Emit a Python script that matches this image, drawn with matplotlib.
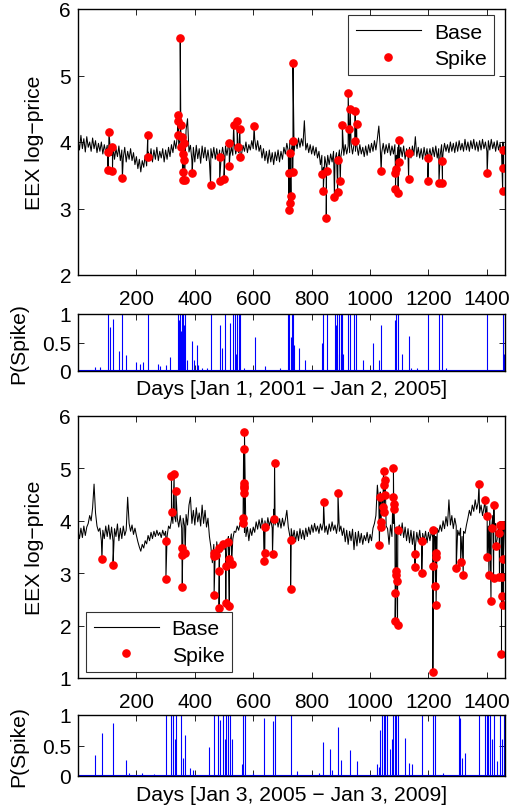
import numpy as np
import matplotlib
matplotlib.use("Agg")
import matplotlib.pyplot as plt
from matplotlib.lines import Line2D

plt.rcParams['font.family'] = ['Liberation Sans', 'DejaVu Sans']

# ---------------- data: panel 1 (2001-2005) ----------------
base1_step = 5
base1 = [
    4.02, 3.88, 4.10, 3.90, 4.05, 3.85, 4.08, 3.92, 4.00, 3.86, 4.06, 3.90, 4.02, 3.84, 3.98, 3.86, 4.00, 3.82, 3.96, 3.84,
    3.95, 3.78, 3.92, 3.80, 3.96, 3.74, 3.90, 3.78, 3.94, 3.72, 3.88, 3.76, 3.92, 3.70, 3.86, 3.74, 3.90, 3.72, 3.84, 3.66,
    3.78, 3.60, 3.74, 3.55, 3.72, 3.62, 3.80, 3.64, 3.85, 3.72, 3.90, 3.70, 3.88, 3.74, 3.92, 3.72, 3.86, 3.76, 3.90, 3.70,
    3.88, 3.74, 3.92, 3.78, 3.96, 3.84, 4.02, 3.90, 4.08, 3.95, 4.05, 3.98, 4.12, 4.00, 4.18, 4.35, 3.85, 3.95, 3.72, 3.92,
    3.70, 3.95, 3.75, 3.90, 3.68, 3.94, 3.76, 3.92, 3.72, 3.88, 3.70, 3.90, 3.76, 3.92, 3.74, 3.90, 3.72, 3.88, 3.76, 3.92,
    3.78, 3.94, 3.80, 3.96, 3.78, 3.92, 3.80, 3.98, 3.82, 3.94, 3.84, 3.98, 3.82, 3.95, 3.86, 4.00, 3.84, 3.96, 3.88, 4.02,
    3.90, 4.05, 3.88, 4.02, 3.86, 3.95, 3.76, 3.90, 3.72, 3.86, 3.68, 3.88, 3.70, 3.84, 3.66, 3.85, 3.72, 3.88, 3.70, 3.86,
    3.74, 3.92, 3.82, 3.98, 3.86, 4.02, 3.88, 4.00, 3.86, 4.04, 3.90, 4.06, 3.92, 4.05, 3.94, 4.32, 3.88, 3.98, 3.84, 3.96,
    3.82, 3.94, 3.80, 3.92, 3.76, 3.86, 3.66, 3.80, 3.62, 3.78, 3.64, 3.80, 3.66, 3.82, 3.70, 3.86, 3.72, 3.84, 3.74, 3.88,
    3.78, 3.92, 3.80, 3.96, 3.82, 3.94, 3.84, 3.98, 3.82, 3.96, 3.86, 3.94, 3.80, 3.96, 3.82, 3.92, 3.78, 3.94, 3.80, 3.96,
    3.84, 3.98, 3.86, 4.02, 3.88, 4.05, 4.24, 3.90, 3.84, 3.98, 3.82, 3.96, 3.84, 3.98, 3.80, 3.94, 3.82, 3.96, 3.80, 3.92,
    3.76, 3.92, 3.78, 3.94, 3.74, 3.90, 3.78, 3.92, 3.76, 3.94, 3.80, 4.08, 3.78, 3.92, 3.76, 3.90, 3.74, 3.92, 3.76, 3.90,
    3.78, 3.90, 3.76, 3.92, 3.78, 3.94, 3.76, 3.90, 3.80, 3.96, 3.84, 3.98, 3.86, 3.96, 3.84, 4.00, 3.86, 3.98, 3.84, 4.00,
    3.86, 4.02, 3.88, 3.98, 3.86, 4.04, 3.88, 4.00, 3.86, 4.02, 3.90, 4.04, 3.88, 4.00, 3.86, 4.02, 3.88, 4.04, 3.90, 4.00,
    3.86, 4.02, 3.88, 4.04, 3.90, 4.00, 3.86, 4.02, 3.88, 3.98, 3.86, 4.00, 3.92]

spike1_days = [103, 104, 106, 118, 118, 152, 239, 239, 342, 344, 344, 350, 352, 353,
               356, 358, 360, 360, 362, 363, 365, 391, 454, 485, 485, 500, 518, 518,
               533, 545, 547, 554, 555, 603, 721, 721, 726, 727, 729, 735, 736, 736,
               835, 840, 850, 851, 878, 889, 890, 898, 905, 925, 928, 932, 948, 949,
               954, 1038, 1087, 1087, 1090, 1096, 1098, 1098, 1132, 1133, 1198, 1198,
               1236, 1248, 1248, 1401, 1454, 1456, 1456]
spike1_vals = [3.58, 3.85, 4.15, 3.92, 3.56, 3.46, 4.11, 3.78, 4.41, 4.31, 4.10, 5.56, 4.26, 3.92,
               4.07, 3.55, 3.82, 3.43, 3.98, 3.73, 3.43, 3.53, 3.36, 3.77, 3.42, 3.44, 3.98, 3.64,
               4.26, 4.31, 3.92, 4.20, 3.77, 4.24, 3.53, 2.98, 3.08, 3.84, 3.19, 3.55, 4.02, 5.19,
               3.52, 3.27, 2.86, 3.56, 3.17, 3.25, 3.73, 3.42, 4.25, 4.74, 4.20, 4.50, 4.02, 4.46,
               4.27, 3.56, 3.53, 3.29, 3.59, 3.24, 3.70, 4.03, 3.44, 3.83, 3.76, 3.42,
               3.39, 3.39, 3.72, 3.53, 3.26, 3.61, 3.88]

p1_days = [57, 74, 103, 109, 120, 141, 152, 164, 200, 212, 223, 240, 274, 280, 303, 314,
           343, 346, 349, 352, 355, 358, 361, 364, 366, 372, 392, 398, 406, 412, 425, 440,
           454, 486, 492, 505, 520, 532, 536, 540, 545, 550, 554, 567, 606, 640, 690,
           720, 724, 728, 731, 734, 737, 740, 757, 777, 834, 840, 851, 880, 884, 888, 892,
           895, 899, 903, 907, 926, 932, 946, 952, 975, 1010, 1029, 1037, 1085, 1090, 1097,
           1109, 1132, 1140, 1160, 1198, 1235, 1246, 1260, 1400, 1455, 1458]
p1_vals = [0.07, 0.07, 1, 0.78, 0.92, 0.35, 1, 0.28, 0.15, 0.12, 0.15, 1, 0.12, 0.08, 0.1, 0.25,
           1, 0.9, 1, 0.7, 1, 0.65, 1, 0.8, 1, 0.2, 0.52, 0.2, 0.45, 0.1, 0.05, 0.06,
           1, 0.8, 0.4, 1, 0.85, 1, 1, 0.3, 1, 1, 1, 0.05, 0.6, 0.08, 0.05,
           1, 1, 0.6, 1, 0.5, 1, 0.45, 0.4, 0.2, 0.5, 1, 1, 1, 0.8, 1, 0.3,
           1, 1, 1, 0.3, 1, 1, 1, 1, 0.2, 0.5, 0.2, 0.8, 0.9, 1, 1,
           0.3, 0.62, 0.05, 0.05, 1, 1, 1, 0.05, 1, 1, 0.3]

# ---------------- data: panel 2 (2005-2009) ----------------
base2_step = 5
base2 = [
    3.80, 3.66, 3.86, 3.68, 3.90, 3.72, 3.88, 3.95, 4.10, 4.00, 4.25, 4.70, 4.15, 3.90, 3.80, 3.86, 3.62, 3.82, 3.66, 3.90,
    3.70, 3.92, 3.65, 3.88, 3.60, 3.85, 3.70, 3.94, 3.62, 3.86, 3.66, 3.90, 3.72, 3.82, 4.45, 3.95, 3.80, 3.92, 3.74, 3.86,
    3.72, 3.60, 3.50, 3.42, 3.55, 3.48, 3.62, 3.56, 3.72, 3.62, 3.78, 3.66, 3.80, 3.70, 3.82, 3.72, 3.78, 3.68, 3.82, 3.72,
    3.80, 3.70, 3.90, 3.85, 4.02, 3.95, 4.10, 3.98, 4.05, 3.88, 4.10, 3.86, 4.05, 3.90, 4.12, 3.92, 4.30, 4.45, 3.95, 4.20,
    3.92, 4.25, 3.98, 4.15, 3.90, 4.30, 3.95, 4.20, 3.88, 4.05, 3.70, 3.50, 3.20, 3.55, 3.40, 3.60, 3.35, 3.52, 3.40, 3.58,
    3.45, 3.62, 3.50, 3.70, 3.58, 3.75, 3.65, 3.80, 3.78, 3.90, 3.82, 3.95, 3.90, 4.02, 3.78, 3.70, 3.88, 3.62, 3.85, 3.72,
    3.88, 3.78, 3.98, 3.84, 4.02, 3.86, 4.05, 3.88, 4.00, 3.84, 4.06, 3.90, 4.02, 3.86, 4.22, 3.92, 4.08, 3.88, 4.04, 3.86,
    4.05, 3.90, 4.02, 4.20, 3.88, 3.72, 3.85, 3.65, 3.82, 3.60, 3.80, 3.62, 3.85, 3.66, 3.82, 3.64, 3.86, 3.70, 3.88, 3.74,
    3.92, 3.78, 3.95, 3.80, 3.90, 3.76, 3.94, 3.82, 3.96, 3.78, 3.90, 3.74, 3.94, 3.80, 3.98, 3.82, 3.92, 3.76, 3.96, 3.80,
    3.90, 3.72, 3.86, 3.60, 3.82, 3.55, 3.80, 3.62, 3.84, 3.45, 3.78, 3.52, 3.80, 3.58, 3.76, 3.55, 3.72, 3.62, 3.78, 3.58,
    3.74, 3.62, 3.86, 3.95, 4.10, 4.68, 4.35, 4.55, 4.40, 4.60, 4.45, 3.90, 3.85, 3.55, 3.92, 3.70, 3.95, 3.78, 3.88, 3.70,
    3.92, 3.72, 3.96, 3.68, 3.88, 3.62, 3.85, 3.58, 3.82, 3.55, 3.80, 3.50, 3.78, 3.60, 3.82, 3.55, 3.76, 3.62, 3.80, 3.58,
    3.78, 3.62, 3.80, 3.68, 3.82, 3.70, 3.85, 3.78, 3.92, 3.80, 4.00, 3.85, 4.08, 3.90, 4.40, 3.92, 4.10, 3.85, 4.05, 3.90,
    3.82, 3.72, 3.86, 3.70, 3.80, 3.76, 3.92, 4.05, 4.20, 4.10, 4.30, 4.18, 4.40, 4.22, 4.35, 4.15, 4.30, 4.10, 4.25, 4.05,
    4.28, 3.90, 4.15, 3.85, 4.10, 3.80, 3.95, 3.65, 3.90, 3.70, 3.95, 3.62, 3.85]

spike2_days = [82, 120, 301, 301, 320, 321, 329, 335, 356, 356, 357, 367, 466, 466, 466,
               474, 483, 483, 483, 497, 506, 507, 512, 518, 518, 526, 565, 565, 567, 568,
               568, 569, 569, 570, 637, 639, 639, 666, 672, 673, 728, 728, 841, 890,
               1032, 1034, 1036, 1037, 1043, 1046, 1047, 1048, 1050, 1052, 1078, 1080,
               1081, 1082, 1086, 1086, 1088, 1089, 1091, 1094, 1095, 1153, 1154, 1177,
               1177, 1215, 1215, 1217, 1224, 1225, 1225, 1226, 1295, 1310, 1319, 1373,
               1394, 1401, 1401, 1407, 1414, 1416, 1423, 1424, 1430, 1442, 1443, 1445,
               1450, 1450, 1452, 1453, 1455, 1455, 1456]
spike2_vals = [3.27, 3.16, 3.62, 2.89, 4.86, 4.16, 4.90, 4.57, 3.48, 3.34, 2.73, 3.39, 3.39, 3.33, 2.59,
               3.35, 3.49, 3.05, 2.34, 3.55, 2.44, 3.14, 3.59, 2.38, 3.28, 3.17, 4.05, 3.96, 5.37, 4.72,
               4.62, 4.67, 4.54, 5.69, 3.24, 3.89, 3.39, 3.37, 4.04, 5.10, 3.64, 2.69, 4.35, 4.54,
               3.53, 4.46, 3.98, 3.88, 4.26, 4.95, 4.68, 4.16, 4.49, 4.78, 4.45, 5.00,
               4.33, 4.23, 2.62, 2.09, 3.04, 2.96, 2.86, 2.02, 3.82, 3.37, 3.11, 3.62,
               3.00, 3.13, 1.12, 3.82, 2.75, 3.30, 3.38, 2.39, 3.10, 3.22, 2.97, 4.70,
               4.40, 4.10, 3.31, 2.97, 2.47, 3.86, 2.90, 4.30, 3.51, 3.76, 2.93, 3.92,
               1.46, 3.92, 2.93, 2.56, 2.39, 3.92, 3.27]

p2_days = [57, 82, 121, 166, 176, 220, 260, 300, 320, 326, 331, 337, 354, 360, 368, 382, 393,
           447, 466, 480, 486, 497, 503, 508, 514, 520, 528, 560, 566, 571, 600, 638, 666, 674,
           729, 750, 825, 840, 863, 870, 889, 899, 931, 954, 1023, 1030, 1034, 1040, 1046,
           1052, 1057, 1068, 1074, 1080, 1085, 1090, 1097, 1120, 1132, 1143, 1177, 1215, 1223,
           1250, 1303, 1309, 1315, 1324, 1372, 1394, 1400, 1405, 1411, 1417, 1423, 1434, 1446,
           1452, 1457, 1461]
p2_vals = [0.35, 0.7, 0.87, 0.26, 0.05, 0.05, 0.03, 1, 1, 1, 0.6, 1, 1, 0.3, 0.68, 0.13, 0.1,
           0.48, 1, 1, 0.92, 1, 0.6, 1, 1, 1, 0.6, 0.2, 1, 1, 0.05, 0.95, 0.9, 1,
           1, 0.08, 0.05, 0.55, 0.44, 0.1, 0.8, 0.27, 0.42, 0.25, 0.2, 0.15, 0.75, 1, 1,
           1, 1, 0.45, 0.6, 1, 1, 1, 1, 0.62, 0.22, 0.2, 1, 1, 1,
           0.05, 1, 0.95, 0.3, 0.37, 1, 1, 1, 1, 1, 0.6, 1, 0.25, 1,
           0.6, 1, 0.1]
p_floor = 0.015

xlabel1 = "Days [Jan 1, 2001 \u2212 Jan 2, 2005]"
xlabel2 = "Days [Jan 3, 2005 \u2212 Jan 3, 2009]"
xticks = [200, 400, 600, 800, 1000, 1200, 1400]

FS = 15.2
TFS = 15
W, H = 512, 812
fig = plt.figure(figsize=(W / 100, H / 100), dpi=100)


def box(l, t, r, b):
    return [l / W, 1 - b / H, (r - l) / W, (b - t) / H]


ax1 = fig.add_axes(box(78, 10, 505, 276))
ax2 = fig.add_axes(box(78, 315, 505, 372))
ax3 = fig.add_axes(box(78, 417, 505, 679))
ax4 = fig.add_axes(box(78, 716, 505, 777))


def price_panel(ax, base, step, sd, sv, ylim, yticks, legloc, bbox):
    bd = np.arange(len(base)) * step
    d = np.concatenate([bd, np.array(sd)])
    v = np.concatenate([np.array(base), np.array(sv)])
    o = np.argsort(d, kind='stable')
    ax.plot(d[o], v[o], color='black', lw=0.75)
    ax.plot(sd, sv, 'o', color='#ff0000', ms=5.2, mec='#ff0000', ls='none')
    ax.set_xlim(0, 1462)
    ax.set_ylim(*ylim)
    ax.set_yticks(yticks)
    ax.set_xticks(xticks)
    ax.set_ylabel("EEX log\u2212price", fontsize=FS)
    ax.yaxis.set_label_coords(-0.08, 0.5)
    h = [Line2D([], [], color='black', lw=0.8),
         Line2D([], [], marker='o', color='#ff0000', ls='none', ms=5.2)]
    leg = ax.legend(h, ["Base", "Spike"], loc=legloc, bbox_to_anchor=bbox,
                    fontsize=FS, frameon=True, fancybox=False, handlelength=3.1,
                    borderpad=0.35, labelspacing=0.35, handletextpad=0.6, borderaxespad=0)
    leg.get_frame().set_edgecolor('black')
    leg.get_frame().set_linewidth(0.8)


def prob_panel(ax, pd_, pv, xlabel, ly):
    ax.plot([0, 1462], [p_floor, p_floor], color='#0000ff', lw=0.8)
    ax.vlines(pd_, 0, pv, color='#0000ff', lw=0.8)
    ax.set_xlim(0, 1462)
    ax.set_ylim(0, 1)
    ax.set_yticks([0, 0.5, 1])
    ax.set_yticklabels(["0", "0.5", "1"])
    ax.set_xticks(xticks)
    ax.set_xticklabels([])
    ax.set_ylabel("P(Spike)", fontsize=FS)
    ax.yaxis.set_label_coords(-0.117, 0.5)
    ax.set_xlabel(xlabel, fontsize=FS)
    ax.xaxis.set_label_coords(0.5, ly)


price_panel(ax1, base1, base1_step, spike1_days, spike1_vals, (2, 6), [2, 3, 4, 5, 6],
            'upper right', (0.974, 0.977))
price_panel(ax3, base2, base2_step, spike2_days, spike2_vals, (1, 6), [1, 2, 3, 4, 5, 6],
            'lower left', (0.019, 0.023))
prob_panel(ax2, p1_days, p1_vals, xlabel1, -8 / 57)
prob_panel(ax4, p2_days, p2_vals, xlabel2, -9 / 61)

for ax in (ax1, ax2, ax3, ax4):
    ax.tick_params(direction='in', top=True, right=True, labelsize=TFS, length=4, width=0.6)
    ax.tick_params(axis='x', pad=10)
    ax.tick_params(axis='y', pad=5)
    for s in ax.spines.values():
        s.set_linewidth(1.0)

fig.savefig("out.png", dpi=100)
